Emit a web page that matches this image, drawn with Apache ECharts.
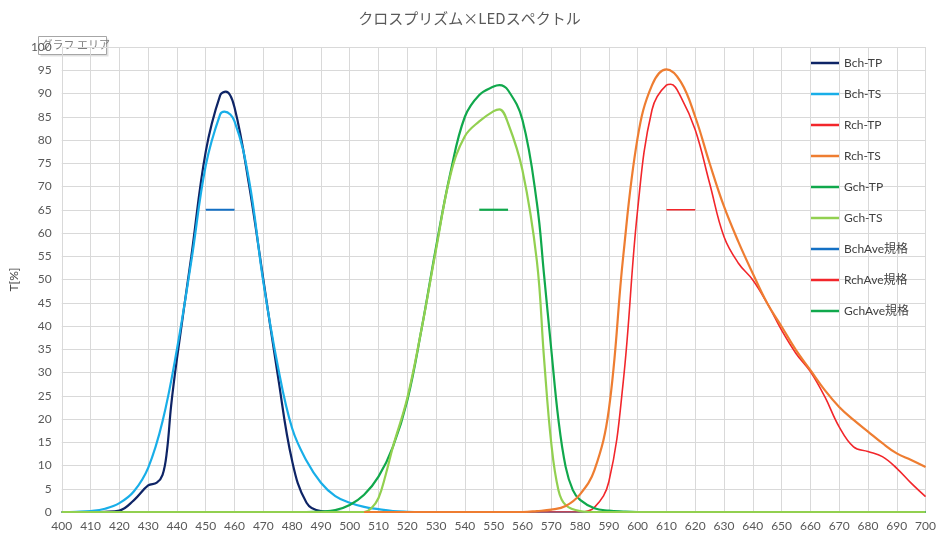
<!DOCTYPE html>
<html>
<head>
<meta charset="utf-8">
<script src="https://cdn.jsdelivr.net/npm/echarts@6/dist/echarts.min.js"></script>
<style>
html,body{margin:0;padding:0;background:#fff;}
#chart{width:939px;height:537px;}
</style>
</head>
<body>
<div id="chart"></div>
<script>
const title = 'クロスプリズム×LEDスペクトル';
const seriesNames = ['Bch-TP','Bch-TS','Rch-TP','Rch-TS','Gch-TP','Gch-TS','BchAve規格','RchAve規格','GchAve規格'];

const bchTpWl  = [400,410,415,420,425,430,433,435,436.5,438,440,445,450,455,457,460,465,470,475,480,485,490,495,500,700];
const bchTpVal = [0,0,0.05,0.3,2.5,5.7,6.3,8,13,23,33,55,77.5,89.6,90.4,87,70.5,50,29.5,11,2,0.2,0.05,0,0];

const bchTsWl  = [400,405,410,415,420,425,430,435,440,445,450,455,456.5,460,465,470,475,480,485,490,495,500,505,510,515,520,525,700];
const bchTsVal = [0,0.05,0.2,0.7,1.9,4.4,9.5,19.5,35,54,74.5,85.5,86.1,84,71.5,49.5,31.5,18,11,6.3,3.4,2.0,1.1,0.6,0.2,0.05,0,0];

const rchTpWl  = [400,580,585,590,595,600,605,610,611.5,615,620,625,630,635,640,645,650,655,660,665,670,675,680,685,690,695,700];
const rchTpVal = [0,0,1,6.5,28,65,86.5,91.8,92,89.3,82.2,70.7,59.2,53.5,49.9,44.9,39.1,34.1,30.2,24.8,18.3,14,13,11.9,9.4,6.2,3.3];

const rchTsWl  = [505,560,565,570,575,580,585,590,595,600,605,610,615,620,625,630,635,640,645,650,655,660,665,670,675,680,685,690,695,700];
const rchTsVal = [0,0,0.2,0.5,1.3,3.8,9,22,55,80.5,91.8,95.2,92.5,85,75,65.7,58.1,51.3,44.9,39.9,34.8,30.5,26.2,22.6,19.8,17.3,14.8,12.6,11.2,9.7];

const gchTpWl  = [400,485,490,495,500,505,510,515,520,525,530,535,540,545,550,552,555,560,565,567.5,570,572.5,575,577.5,580,585,590,595,600,700];
const gchTpVal = [0,0,0.1,0.4,1.5,3.7,7.6,14,24,39.5,57,73,85,89.7,91.5,91.8,90.7,84.3,66.5,51,35,19.8,9.7,4.7,2.6,0.8,0.3,0.1,0,0];

const gchTsWl  = [400,505,507.5,510,512.5,515,520,525,530,535,540,545,550,552,555,560,565,567.5,570,572.5,575,580,585,700];
const gchTsVal = [0,0,0.8,3,8,14,24.5,39.5,56.5,72.5,80.8,84,86.2,86.6,83.6,73.5,54,33,14.8,4.7,1.5,0.2,0,0];

const bchAveWl = [450,460];  const bchAveVal = [65,65];
const rchAveWl = [610,620];  const rchAveVal = [65,65];
const gchAveWl = [545,555];  const gchAveVal = [65,65];

const xTicks = {min:400, max:700, interval:10};
const yTicks = {min:0, max:100, interval:5};

function zip(a,b){ return a.map((x,i)=>[x,b[i]]); }

const FONT = "Lato, 'Noto Sans CJK JP', sans-serif";
const colors = {
  'Bch-TP':'#0E2466','Bch-TS':'#18AEE8','Rch-TP':'#F2262B','Rch-TS':'#EE7D31',
  'Gch-TP':'#10A84C','Gch-TS':'#92D050','BchAve規格':'#1470C4','RchAve規格':'#F2262B','GchAve規格':'#10A84C'
};
const widths = {'Bch-TP':2.2,'Bch-TS':2.2,'Rch-TP':1.6,'Rch-TS':2.2,'Gch-TP':2.2,'Gch-TS':2.2,'BchAve規格':2,'RchAve規格':1.6,'GchAve規格':2.2};

function mk(name, wl, val, smooth){
  return {
    name, type:'line', data: zip(wl,val), symbol:'none', showSymbol:false,
    smooth: smooth ? 0.4 : false,
    lineStyle:{color:colors[name], width:widths[name]},
    itemStyle:{color:colors[name]},
    emphasis:{disabled:true}
  };
}

const chart = echarts.init(document.getElementById('chart'), null, {renderer:'canvas'});
chart.setOption({
  animation:false,
  backgroundColor:'#ffffff',
  title:{text:title, left:'center', top:6, textStyle:{fontFamily:"'Noto Sans CJK JP', sans-serif", fontSize:15, fontWeight:'normal', color:'#595959'}},
  grid:{left:61, right:10, top:47, bottom:25, containLabel:false},
  legend:{
    orient:'vertical', left:806, top:51, itemWidth:28, itemHeight:2.5, itemGap:17, icon:'rect',
    data: seriesNames,
    textStyle:{fontFamily:FONT, fontSize:12, color:'#404040', lineHeight:14},
    selectedMode:false
  },
  xAxis:{
    type:'value', min:xTicks.min, max:xTicks.max, interval:xTicks.interval,
    axisLine:{show:true, lineStyle:{color:'#D9D9D9'}}, axisTick:{show:false},
    axisLabel:{fontFamily:FONT, fontSize:12, color:'#595959', margin:8},
    splitLine:{show:true, lineStyle:{color:'#D9D9D9', width:1}}
  },
  yAxis:{
    type:'value', min:yTicks.min, max:yTicks.max, interval:yTicks.interval,
    name:'T[%]', nameLocation:'middle', nameGap:37, nameRotate:90,
    nameTextStyle:{fontFamily:FONT, fontSize:12, color:'#404040'},
    axisLine:{show:true, lineStyle:{color:'#D9D9D9'}}, axisTick:{show:false},
    axisLabel:{fontFamily:FONT, fontSize:12, color:'#595959', margin:10},
    splitLine:{show:true, lineStyle:{color:'#D9D9D9', width:1}}
  },
  series:[
    mk('Bch-TP', bchTpWl, bchTpVal, true),
    mk('Bch-TS', bchTsWl, bchTsVal, true),
    mk('Rch-TP', rchTpWl, rchTpVal, true),
    mk('Gch-TP', gchTpWl, gchTpVal, true),
    mk('Gch-TS', gchTsWl, gchTsVal, true),
    mk('Rch-TS', rchTsWl, rchTsVal, true),
    mk('BchAve規格', bchAveWl, bchAveVal, false),
    mk('RchAve規格', rchAveWl, rchAveVal, false),
    mk('GchAve規格', gchAveWl, gchAveVal, false)
  ],
  graphic:[{
    type:'group', left:38, top:36, z:100,
    children:[
      {type:'rect', shape:{x:2,y:2,width:68,height:18}, style:{fill:'rgba(0,0,0,0.12)'}},
      {type:'rect', shape:{x:0,y:0,width:68,height:18}, style:{fill:'#ffffff', stroke:'#A6A6A6', lineWidth:1}},
      {type:'text', x:3, y:3, style:{text:'グラフ エリア', fontFamily:"'Noto Sans CJK JP', sans-serif", fontSize:11, fill:'#7F7F7F'}}
    ]
  }]
});
</script>
</body>
</html>
